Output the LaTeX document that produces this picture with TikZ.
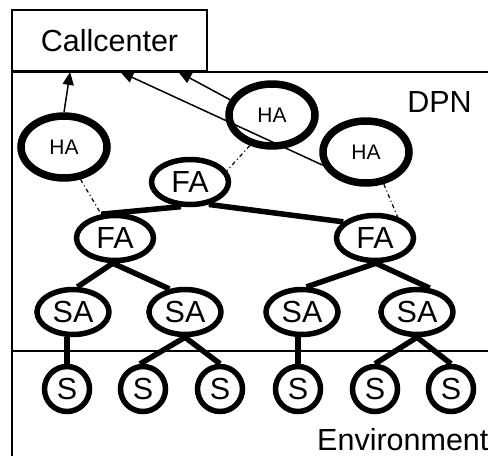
\documentclass[tikz,border=0pt]{standalone}
\usepackage{fontspec}
\setmainfont{Liberation Sans}
\usetikzlibrary{shapes.geometric,arrows.meta,calc}

\tikzset{
  big/.style={font=\fontsize{30.5}{36}\selectfont},
  haagent/.style={ellipse, draw, line width=7.5pt, inner sep=0pt,
    minimum width=86pt, minimum height=62pt, font=\fontsize{21}{25}\selectfont},
  faagent/.style={ellipse, draw, line width=5.5pt, inner sep=0pt,
    minimum width=77pt, minimum height=45pt, big},
  saagent/.style={ellipse, draw, line width=5.5pt, inner sep=0pt,
    minimum width=72pt, minimum height=45pt, big},
  sensor/.style={circle, draw, line width=5.5pt, inner sep=0pt,
    minimum size=45pt, big},
  tree/.style={line width=5.5pt},
  link/.style={line width=1.2pt, dash pattern=on 4pt off 3pt on 1pt off 3pt},
  report/.style={line width=1.5pt, -{Triangle[length=13pt,width=11pt]}},
  frame/.style={line width=1.8pt}
}

\begin{document}
\begin{tikzpicture}[x=1pt, y=-1pt]
\useasboundingbox (0,0) rectangle (488,456);

% region frames: DPN above, environment below
\draw[frame] (12,456) -- (12,72) -- (488,72);
\draw[frame] (12,351) -- (488,351);

\node[draw, frame, rectangle, minimum width=195pt, minimum height=61pt,
      inner sep=0pt, big] (cc) at (109.5,40.5) {Callcenter};
\node[big] (dpn) at (439.5,102) {DPN};
\node[big, anchor=base west, inner sep=0pt] (env) at (317,450) {Environment};

% agents
\node[haagent] (ha1) at (64,147) {HA};
\node[haagent] (ha2) at (272,115) {HA};
\node[haagent] (ha3) at (366,152) {HA};

\node[faagent] (fa0) at (190,182) {FA};
\node[faagent] (fa1) at (115,238) {FA};
\node[faagent] (fa2) at (375,238) {FA};

\node[saagent] (sa1) at (73,312) {SA};
\node[saagent] (sa2) at (185,312) {SA};
\node[saagent] (sa3) at (302,312) {SA};
\node[saagent] (sa4) at (417,312) {SA};

\node[sensor] (s1) at (67,389) {S};
\node[sensor] (s2) at (143,389) {S};
\node[sensor] (s3) at (220,389) {S};
\node[sensor] (s4) at (298,389) {S};
\node[sensor] (s5) at (375,389) {S};
\node[sensor] (s6) at (451,389) {S};

% hierarchy
\draw[tree] (fa0.250) -- (fa1.120);
\draw[tree] (fa0.310) -- (fa2.153);
\draw[tree] (fa1.265) -- (sa1.80);
\draw[tree] (fa1.265) -- (sa2.124);
\draw[tree] (fa2.272) -- (sa3.80);
\draw[tree] (fa2.272) -- (sa4.62);
\draw[tree] (sa1.south -| s1.north) -- (s1.north);
\draw[tree] (sa2.south) -- (s2.97);
\draw[tree] (sa2.south) -- (s3.north);
\draw[tree] (sa3.south -| s4.north) -- (s4.north);
\draw[tree] (sa4.south) -- (s5.north);
\draw[tree] (sa4.south) -- (s6.north);

% loose links between human and field agents
\draw[link] (ha1.297) -- (fa1.120);
\draw[link] (ha2.234) -- (fa0.17);
\draw[link] (ha3.299) -- (fa2.43);

% reports to the call center
\coordinate (cin1) at ($(cc.south west)!0.30!(cc.south east)$);
\coordinate (cin2) at ($(cc.south west)!0.555!(cc.south east)$);
\coordinate (cin3) at ($(cc.south west)!0.85!(cc.south east)$);
\draw[report] (ha1.north) -- (cin1);
\draw[report] (ha3.197) -- (cin2);
\draw[report] (ha2.160) -- (cin3);
\end{tikzpicture}
\end{document}
